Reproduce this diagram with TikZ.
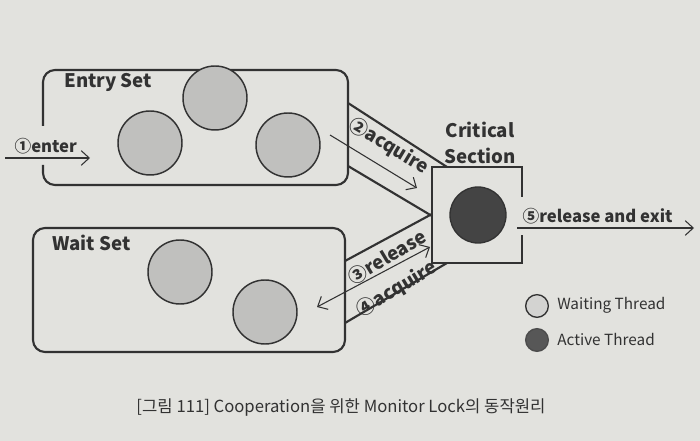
\documentclass[tikz,border=0pt]{standalone}
\usepackage{fontspec}
\setmainfont{Noto Sans CJK KR}
\usetikzlibrary{arrows.meta}
\definecolor{bg}{RGB}{226,226,222}
\definecolor{ink}{RGB}{50,50,50}
\definecolor{wfill}{RGB}{192,192,190}
\definecolor{afill}{RGB}{68,68,68}
\tikzset{
  boxline/.style={draw=ink, line width=1.6pt},
  chan/.style={draw=ink, line width=1.6pt},
  arr/.style={draw=ink, line width=0.8pt, -{Straight Barb[length=6pt,width=11pt]}},
  darr/.style={draw=ink, line width=0.8pt, {Straight Barb[length=6pt,width=11pt]}-{Straight Barb[length=6pt,width=11pt]}},
  wthread/.style={circle, draw=ink, line width=1.1pt, fill=wfill, minimum size=48pt, inner sep=0pt},
  athread/.style={circle, draw=black!80, line width=1pt, fill=afill, minimum size=42pt, inner sep=0pt},
  lab/.style={text=ink, font=\bfseries\fontsize{14}{16}\selectfont, inner sep=0pt},
  slab/.style={text=ink, font=\bfseries\fontsize{12.5}{14}\selectfont, inner sep=1pt},
  leg/.style={text=ink, font=\fontsize{11.5}{13}\selectfont, anchor=west, inner sep=0pt},
}
\begin{document}
\begin{tikzpicture}[x=0.75pt,y=-0.75pt]
\fill[bg] (0,0) rectangle (700,441);
\useasboundingbox (0,0) rectangle (700,441);

% Entry set box (gap on left for enter arrow)
\draw[boxline, rounded corners=9pt] (43,126) -- (43,70) -- (348,70) -- (348,185) -- (43,185) -- (43,165);
\node[lab, anchor=west] (entrylab) at (64,82) {Entry Set};
\node[wthread] (e1) at (150,143) {};
\node[wthread] (e2) at (215,98) {};
\node[wthread] (e3) at (288,145) {};

% Wait set box
\draw[boxline, rounded corners=9pt] (33,228) rectangle (345,352);
\node[lab, anchor=west] (waitlab) at (52,243) {Wait Set};
\node[wthread] (w1) at (180,272) {};
\node[wthread] (w2) at (265,312) {};

% Critical section box (gap on right for exit)
\draw[boxline] (522,197) -- (522,167) -- (432,167) -- (432,263) -- (522,263) -- (522,235);
\node[lab, align=center] (critlab) at (480,143) {Critical\\[3pt]Section};
\node[athread] (act) at (478,215) {};

% channels
\coordinate (c1a) at (348,103); \coordinate (c1b) at (447,167);
\coordinate (c2a) at (348,166); \coordinate (c2b) at (432,216);
\coordinate (c3a) at (345,261); \coordinate (c3b) at (432,214);
\coordinate (c4a) at (345,323); \coordinate (c4b) at (447,263);
\draw[chan] (c1a) -- (c1b);
\draw[chan] (c2a) -- (c2b);
\draw[chan] (c3a) -- (c3b);
\draw[chan] (c4a) -- (c4b);

% enter arrow
\coordinate (en0) at (5,158); \coordinate (en1) at (90,158);
\draw[arr] (en0) -- (en1);
\node[slab, anchor=south west] (enterlab) at (13,156) {①enter};

% acquire arrow
\coordinate (aq0) at (330,135); \coordinate (aq1) at (417,188);
\draw[arr] (aq0) -- (aq1);
\node[lab, rotate=-31] (acqlab) at (389,146) {②acquire};

% release / acquire double arrow
\coordinate (ra0) at (317,307); \coordinate (ra1) at (430,247);
\draw[darr] (ra0) -- (ra1);
\node[lab, rotate=31] (rellab) at (387,257) {③release};
\node[lab, rotate=31] (acq2lab) at (397,289) {④acquire};

% exit arrow
\coordinate (ex0) at (517,228); \coordinate (ex1) at (694,228);
\draw[arr] (ex0) -- (ex1);
\node[slab, anchor=south west] (exitlab) at (521,226) {⑤release and exit};

% legend
\node[circle, draw=ink, line width=1pt, fill=wfill!70, minimum size=17pt, inner sep=0pt] (lw) at (537,306) {};
\node[leg] (lwt) at (557,305) {Waiting Thread};
\node[circle, draw=black!70, line width=1pt, fill=afill!90, minimum size=17pt, inner sep=0pt] (la) at (537,340) {};
\node[leg] (lat) at (557,339) {Active Thread};

% caption
\node[text=ink, font=\fontsize{12.5}{14}\selectfont] (cap) at (341,408) {[그림 111] Cooperation을 위한 Monitor Lock의 동작원리};
\end{tikzpicture}
\end{document}
